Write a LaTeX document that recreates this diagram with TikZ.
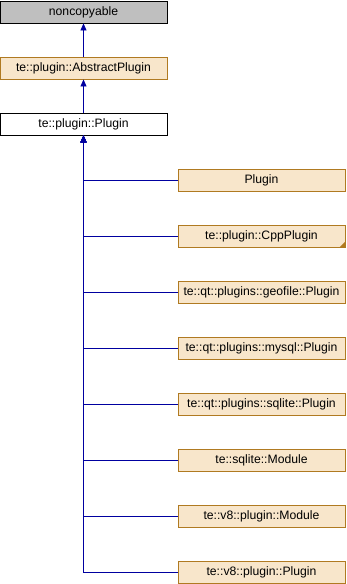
\documentclass[tikz,border=0pt]{standalone}
\usepackage{fontspec}
\setmainfont{Liberation Sans}
\usetikzlibrary{arrows.meta, positioning, calc}

\definecolor{clsfill}{RGB}{248,230,203}
\definecolor{clsline}{RGB}{176,122,33}
\definecolor{basefill}{RGB}{191,191,191}
\definecolor{inhline}{RGB}{0,0,160}

\begin{document}
\begin{tikzpicture}[
    x=1pt, y=-1pt,
    >={Triangle[length=7pt, width=6pt]},
    clsnode/.style={
        rectangle, draw=clsline, line width=0.9pt, fill=clsfill,
        minimum width=167pt, minimum height=22pt, inner sep=0pt,
        font=\fontsize{12.2}{14}\selectfont
    },
    basenode/.style={clsnode, draw=black, fill=basefill},
    selfnode/.style={clsnode, draw=black, fill=white},
    arr/.style={draw=inhline, line width=0.9pt, ->},
]
\useasboundingbox (0,0) rectangle (346,584);

% ================================================================
%  LEFT: BASE CHAIN
% ================================================================
\def\lx{83.5}
\def\rx{261.5}
\def\sep{56}

\node[basenode] (noncopy) at (\lx, 12)       {noncopyable};
\node[clsnode]  (abstract) at (\lx, 12+\sep)  {te::plugin::AbstractPlugin};
\node[selfnode] (plugin) at (\lx, 12+2*\sep)  {te::plugin::Plugin};

\draw[arr] (abstract.north) -- (noncopy.south);
\draw[arr] (plugin.north) -- (abstract.south);

% ================================================================
%  RIGHT: DERIVED CLASSES
% ================================================================
\foreach \name/\txt [count=\i] in {
    d1/Plugin,
    d2/te::plugin::CppPlugin,
    d3/te::qt::plugins::geofile::Plugin,
    d4/te::qt::plugins::mysql::Plugin,
    d5/te::qt::plugins::sqlite::Plugin,
    d6/te::sqlite::Module,
    d7/te::v8::plugin::Module,
    d8/te::v8::plugin::Plugin} {
    \pgfmathsetmacro{\yy}{12+\sep*(\i+2)}
    \node[clsnode] (\name) at (\rx, \yy) {\txt};
    \draw[arr] (\name.west) -| (plugin.south);
}

% --- truncated marker on CppPlugin ---
\fill[clsline] ($(d2.south east)+(-6,0)$) -- (d2.south east) -- ($(d2.south east)+(0,-6)$) -- cycle;

\end{tikzpicture}
\end{document}
